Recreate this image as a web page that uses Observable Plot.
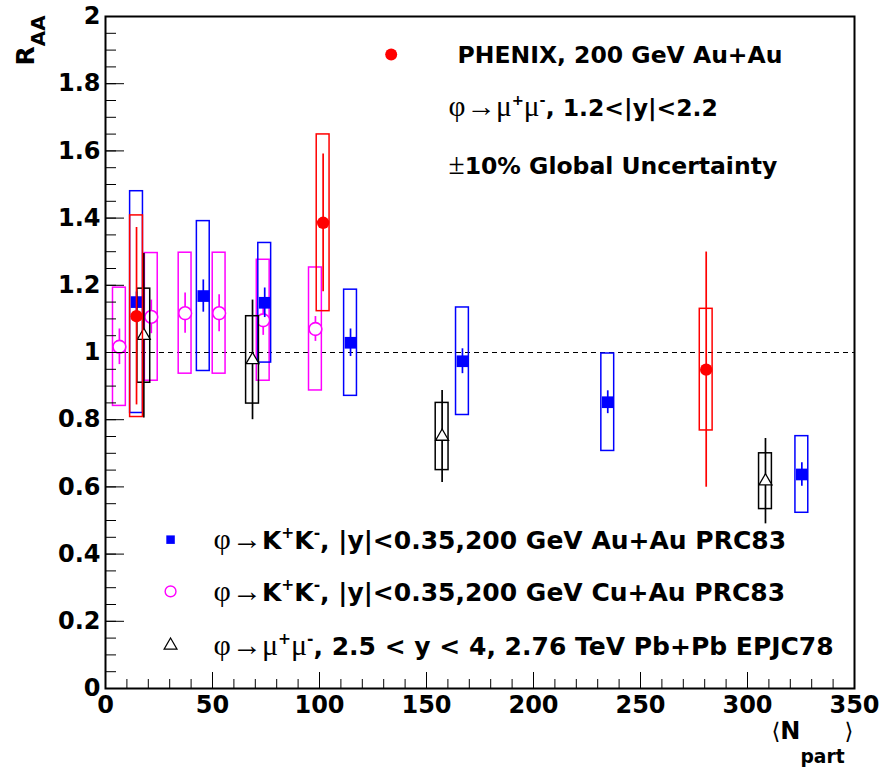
<!DOCTYPE html>
<html>
<head>
<meta charset="utf-8">
<script src="https://cdn.jsdelivr.net/npm/d3@7"></script>
<script src="https://cdn.jsdelivr.net/npm/@observablehq/plot@0.6"></script>
<style>
  html, body { margin: 0; padding: 0; background: #fff; }
  #chart svg { display: block; background: #fff; overflow: visible; }
</style>
</head>
<body>
<div id="chart"></div>
<script>
// ---------- data ----------
// PHENIX phi -> mu+ mu-, 200 GeV Au+Au
const phenixNpart = [14.5, 101.7, 280.7];
const phenixRaa   = [1.108, 1.386, 0.949];
const phenixStat  = [0.264, 0.205, 0.35];
const phenixSys   = [0.30, 0.263, 0.181];

// phi -> K+K-, |y|<0.35, 200 GeV Au+Au PRC83
const auauNpart = [14.5, 45.7, 74.4, 114.5, 166.8, 234.7, 325.4];
const auauRaa   = [1.150, 1.168, 1.148, 1.029, 0.974, 0.852, 0.637];
const auauStat  = [0.03, 0.048, 0.044, 0.041, 0.037, 0.034, 0.035];
const auauSys   = [0.33, 0.223, 0.178, 0.158, 0.16, 0.145, 0.114];

// phi -> K+K-, |y|<0.35, 200 GeV Cu+Au PRC83
const cuauNpart = [6.5, 21.4, 37.2, 53.1, 73.7, 98.1];
const cuauRaa   = [1.017, 1.106, 1.117, 1.117, 1.096, 1.070];
const cuauStat  = [0.053, 0.05, 0.06, 0.055, 0.045, 0.037];
const cuauSys   = [0.176, 0.19, 0.18, 0.18, 0.18, 0.183];

// phi -> mu+ mu-, 2.5<y<4, 2.76 TeV Pb+Pb EPJC78
const pbpbNpart = [17.9, 68.7, 157.3, 308.4];
const pbpbRaa   = [1.05, 0.978, 0.75, 0.617];
const pbpbStat  = [0.245, 0.178, 0.137, 0.127];
const pbpbSys   = [0.14, 0.13, 0.10, 0.083];

const xTicks = [0, 50, 100, 150, 200, 250, 300, 350];
const yTicks = [0, 0.2, 0.4, 0.6, 0.8, 1, 1.2, 1.4, 1.6, 1.8, 2];

const topLegendLabels = [
  "PHENIX, 200 GeV Au+Au",
  "φ→μ^{+}μ^{-}, 1.2<|y|<2.2",
  "±10% Global Uncertainty"
];
const bottomLegendLabels = [
  "φ→K^{+}K^{-}, |y|<0.35,200 GeV Au+Au PRC83",
  "φ→K^{+}K^{-}, |y|<0.35,200 GeV Cu+Au PRC83",
  "φ→μ^{+}μ^{-}, 2.5 < y < 4, 2.76 TeV Pb+Pb EPJC78"
];
const yLabel = "R_{AA}";
const xLabel = "⟨N_{part}⟩";

// ---------- build tables ----------
const table = (xs, ys, st, sy) => xs.map((x, i) => ({x, y: ys[i], stat: st[i], sys: sy[i]}));
const phenix = table(phenixNpart, phenixRaa, phenixStat, phenixSys);
const auau = table(auauNpart, auauRaa, auauStat, auauSys);
const cuau = table(cuauNpart, cuauRaa, cuauStat, cuauSys);
const pbpb = table(pbpbNpart, pbpbRaa, pbpbStat, pbpbSys);

const HW = 3; // half width of systematic boxes (in Npart units)
function series(data, color, symbol, r, fill, sw) {
  return [
    Plot.rect(data, {x1: d => d.x - HW, x2: d => d.x + HW, y1: d => d.y - d.sys, y2: d => d.y + d.sys,
      fill: "none", stroke: color, strokeWidth: 1.5}),
    Plot.ruleX(data, {x: "x", y1: d => d.y - d.stat, y2: d => d.y + d.stat, stroke: color, strokeWidth: 1.7}),
    Plot.dot(data, {x: "x", y: "y", symbol, r, fill, stroke: sw ? color : "none", strokeWidth: sw || 0})
  ];
}

// legend anchors (data units)
const legX = 30.4, legTextX = 50.5;
const legRowsMarker = [0.443, 0.289, 0.128];
const legRowsText = [0.415, 0.260, 0.099];

const FONT = "DejaVu Sans, Liberation Sans, sans-serif";
const fmtY = d => String(+d.toFixed(1));

const plot = Plot.plot({
  width: 881,
  height: 767,
  marginLeft: 105,
  marginRight: 27,
  marginTop: 16,
  marginBottom: 79,
  x: {domain: [0, 350], label: null},
  y: {domain: [0, 2], label: null},
  style: {fontFamily: FONT, background: "#fff", color: "#000"},
  marks: [
    // reference line
    Plot.ruleY([1], {stroke: "#000", strokeWidth: 1.2, strokeDasharray: "5,4"}),
    // series
    ...series(cuau, "#ff00ff", "circle", 6.4, "#fff", 1.6),
    ...series(auau, "#0000ff", "square", 6.6, "#0000ff", 0),
    ...series(pbpb, "#000", "triangle", 4.8, "#fff", 1.3),
    ...series(phenix, "#ff0000", "circle", 6.2, "#ff0000", 0),
    // frame
    Plot.frame({stroke: "#000", strokeWidth: 2}),
    // inward ticks
    Plot.axisX({ticks: xTicks, tickSize: 16, dy: -16, tickFormat: () => "", label: null}),
    Plot.axisX({ticks: d3.range(0, 351, 10), tickSize: 9, dy: -9, tickFormat: () => "", label: null}),
    Plot.axisY({ticks: yTicks, tickSize: 19, dx: 19, tickFormat: () => "", label: null}),
    Plot.axisY({ticks: d3.range(0, 2.001, 0.05), tickSize: 11, dx: 11, tickFormat: () => "", label: null}),
    // tick labels
    Plot.axisX({ticks: xTicks, tickSize: 0, tickPadding: 7, fontSize: 24, fontWeight: "bold", label: null}),
    Plot.axisY({ticks: yTicks, tickSize: 0, tickPadding: 5, tickFormat: fmtY, fontSize: 24, fontWeight: "bold", label: null}),
    // axis titles
    Plot.text([yLabel], {frameAnchor: "top-left", rotate: -90, textAnchor: "start", lineAnchor: "bottom",
      dx: -72, dy: 49, fontSize: 25, fontWeight: "bold", fill: "#000"}),
    Plot.text([xLabel], {frameAnchor: "bottom-right", textAnchor: "end", lineAnchor: "bottom",
      dx: -1, dy: 50, fontSize: 24, fontWeight: "bold", fill: "#000"}),
    // top-right legend
    Plot.dot([0], {x: () => 133.5, y: () => 1.887, r: 6, fill: "#ff0000"}),
    Plot.text(topLegendLabels, {x: (d, i) => i === 0 ? 164.5 : 160.3, y: (d, i) => [1.863, 1.705, 1.530][i],
      textAnchor: "start", lineAnchor: "bottom", fontSize: 23.5, fontWeight: "bold", fill: "#000"}),
    // bottom legend
    Plot.dot([0], {x: () => legX, y: () => legRowsMarker[0], symbol: "square", r: 4.8, fill: "#0000ff"}),
    Plot.dot([0], {x: () => legX, y: () => legRowsMarker[1], symbol: "circle", r: 5.4, fill: "#fff", stroke: "#ff00ff", strokeWidth: 1.4}),
    Plot.dot([0], {x: () => legX, y: () => legRowsMarker[2], symbol: "triangle", r: 4.8, fill: "#fff", stroke: "#000", strokeWidth: 1.2}),
    Plot.text(bottomLegendLabels, {x: () => legTextX, y: (d, i) => legRowsText[i],
      textAnchor: "start", lineAnchor: "bottom", fontSize: 25, fontWeight: "bold", fill: "#000"})
  ]
});

// ---------- rich text post-processing (super/subscripts, symbol glyphs) ----------
const SVGNS = "http://www.w3.org/2000/svg";
const SYMS = "φμ→±⟨⟩";
function richify(el, fs, o) {
  const s = el.textContent;
  const tokens = s.match(/\^\{[^}]*\}|_\{[^}]*\}|[φμ→±⟨⟩]|[^φμ→±⟨⟩^_]+/g) || [];
  el.textContent = "";
  let shift = 0;
  for (const t of tokens) {
    const ts = document.createElementNS(SVGNS, "tspan");
    let target = 0, txt = t, size = fs;
    if (t.startsWith("^{")) { target = -o.sup * fs; txt = t.slice(2, -1); size = fs * o.supScale; }
    else if (t.startsWith("_{")) { target = o.sub * fs; txt = t.slice(2, -1); size = fs * o.subScale; }
    if (target !== shift) { ts.setAttribute("dy", (target - shift).toFixed(2)); shift = target; }
    if (txt.length === 1 && SYMS.includes(txt)) {
      ts.setAttribute("font-family", "Liberation Serif, DejaVu Serif, DejaVu Sans, serif");
      ts.setAttribute("font-weight", "normal");
      size = size * o.symScale;
      if (txt === "→") ts.setAttribute("dx", (o.arrowPad || 0).toFixed(2));
    }
    ts.setAttribute("font-size", size.toFixed(2));
    ts.textContent = txt;
    el.appendChild(ts);
  }
}
const richCfg = {
  top: {fs: 23.5, sup: 0.45, supScale: 0.62, sub: 0.3, subScale: 0.75, symScale: 1.25, arrowPad: 1},
  bottom: {fs: 25, sup: 0.45, supScale: 0.62, sub: 0.3, subScale: 0.75, symScale: 1.2, arrowPad: 1},
  y: {fs: 25, sup: 0.45, supScale: 0.6, sub: 0.46, subScale: 0.8, symScale: 1},
  x: {fs: 24, sup: 0.45, supScale: 0.6, sub: 1.0, subScale: 0.78, symScale: 0.95}
};
plot.querySelectorAll("text").forEach(el => {
  const s = el.textContent;
  let c = null;
  if (s === yLabel) c = richCfg.y;
  else if (s === xLabel) c = richCfg.x;
  else if (topLegendLabels.includes(s)) c = richCfg.top;
  else if (bottomLegendLabels.includes(s)) c = richCfg.bottom;
  if (c) richify(el, c.fs, c);
});

document.getElementById("chart").appendChild(plot);
</script>
</body>
</html>
